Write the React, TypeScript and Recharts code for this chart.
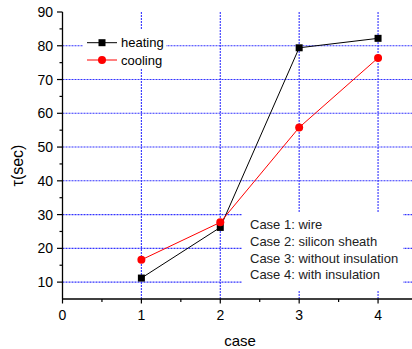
import React from 'react';
import { LineChart, Line, XAxis, YAxis, CartesianGrid } from 'recharts';

const cases = [1, 2, 3, 4];
const heating = [11.2, 26.2, 79.4, 82.2];
const cooling = [16.6, 27.7, 55.8, 76.4];
const xTicks = [0, 0.5, 1, 1.5, 2, 2.5, 3, 3.5, 4, 4.5];
const yTicks = [10, 15, 20, 25, 30, 35, 40, 45, 50, 55, 60, 65, 70, 75, 80, 85, 90];
const gridY = [10, 20, 30, 40, 50, 60, 70, 80];
const gridX = [1, 2, 3, 4];
const seriesNames = ['heating', 'cooling'];
const seriesColors = ['#000000', '#ff0000'];
const caseNotes = ['Case 1: wire', 'Case 2: silicon sheath', 'Case 3: without insulation', 'Case 4: with insulation'];

const data = cases.map((c, i) => ({ case: c, heating: heating[i], cooling: cooling[i] }));

const FONT = '"Liberation Sans", Arial, Helvetica, sans-serif';

const BottomTick = (props: any) => {
  const { x, y, payload } = props;
  const v = payload.value;
  const major = Number.isInteger(v);
  return (
    <g>
      <line x1={x} x2={x} y1={y} y2={y + (major ? 4.5 : 3)} stroke="#000" strokeWidth={1.2} />
      {major && (
        <text x={x} y={y + 21} textAnchor="middle" fontSize={14} fill="#000" fontFamily={FONT}>
          {v}
        </text>
      )}
    </g>
  );
};

const TopTick = (props: any) => {
  const { x, y, payload } = props;
  const v = payload.value;
  const major = Number.isInteger(v);
  return <line x1={x} x2={x} y1={y} y2={y + (major ? 4 : 2.5)} stroke="#000" strokeWidth={1.2} />;
};

const LeftTick = (props: any) => {
  const { x, y, payload } = props;
  const v = payload.value;
  const major = v % 10 === 0;
  return (
    <g>
      <line x1={x} x2={x - (major ? 5.5 : 3)} y1={y} y2={y} stroke="#000" strokeWidth={1.2} />
      {major && (
        <text x={x - 9.5} y={y + 5} textAnchor="end" fontSize={14} fill="#000" fontFamily={FONT}>
          {v}
        </text>
      )}
    </g>
  );
};

const YLabel = (props: any) => {
  const vb = props.viewBox || { x: 0, y: 12, width: 62.5, height: 287 };
  const cx = vb.x + 17;
  const cy = vb.y + vb.height / 2 + 10;
  return (
    <text
      x={cx}
      y={cy}
      transform={`rotate(-90 ${cx} ${cy})`}
      textAnchor="middle"
      dominantBaseline="central"
      fontSize={16}
      fill="#000"
      fontFamily={FONT}
    >
      τ(sec)
    </text>
  );
};

const XLabel = (props: any) => {
  const vb = props.viewBox || { x: 62.5, y: 299, width: 355, height: 50 };
  const cx = vb.x + vb.width / 2;
  return (
    <text x={cx} y={vb.y + 47} textAnchor="middle" fontSize={15} fill="#000" fontFamily={FONT}>
      case
    </text>
  );
};

const SquareDot = (props: any) => {
  const { cx, cy } = props;
  if (cx == null || cy == null) return null;
  return <rect key={`sq-${cx}`} x={cx - 3.5} y={cy - 3.5} width={7} height={7} fill="#000" />;
};

const CircleDot = (props: any) => {
  const { cx, cy } = props;
  if (cx == null || cy == null) return null;
  return <circle key={`ci-${cx}`} cx={cx} cy={cy} r={4} fill="#ff0000" />;
};

function LegendBox() {
  return (
    <svg
      width={83}
      height={39}
      style={{ position: 'absolute', left: 83, top: 30, display: 'block', background: '#fff' }}
    >
      {seriesNames.map((name, i) => {
        const cy = 12.7 + i * 17.3;
        const color = seriesColors[i];
        return (
          <g key={name}>
            <line x1={4} x2={34} y1={cy} y2={cy} stroke={color} strokeWidth={1} />
            {i === 0 ? (
              <rect x={19 - 3.5} y={cy - 3.5} width={7} height={7} fill={color} />
            ) : (
              <circle cx={19} cy={cy} r={4} fill={color} />
            )}
            <text x={38} y={cy + 4.5} fontSize={13} fill="#000" fontFamily={FONT}>
              {name}
            </text>
          </g>
        );
      })}
    </svg>
  );
}

export default function App() {
  return (
    <div
      style={{
        position: 'absolute',
        left: 0,
        top: 0,
        width: 412,
        height: 349,
        overflow: 'hidden',
        background: '#fff',
        fontFamily: FONT,
      }}
    >
      <LineChart
        width={440}
        height={349}
        data={data}
        margin={{ top: 12, right: 22.5, bottom: 0, left: 0 }}
      >
        <CartesianGrid
          horizontal
          vertical
          horizontalValues={gridY}
          verticalValues={gridX}
          stroke="#3333ff"
          strokeDasharray="2 1"
          strokeWidth={1.1}
        />
        <XAxis
          dataKey="case"
          type="number"
          domain={[0, 4.5]}
          ticks={xTicks}
          interval={0}
          tickSize={0}
          tickMargin={0}
          tick={<BottomTick />}
          axisLine={{ stroke: '#000', strokeWidth: 1.3 }}
          tickLine={false}
          height={50}
          label={<XLabel />}
        />
        <XAxis
          xAxisId="top"
          orientation="top"
          dataKey="case"
          type="number"
          domain={[0, 4.5]}
          ticks={xTicks}
          interval={0}
          tickSize={0}
          tickMargin={0}
          tick={<TopTick />}
          axisLine={{ stroke: '#000', strokeWidth: 1.3 }}
          tickLine={false}
          height={0}
        />
        <YAxis
          type="number"
          domain={[5, 90]}
          ticks={yTicks}
          interval={0}
          tickSize={0}
          tickMargin={0}
          tick={<LeftTick />}
          axisLine={{ stroke: '#000', strokeWidth: 1.3 }}
          tickLine={false}
          width={62.5}
          label={<YLabel />}
        />
        <Line
          type="linear"
          dataKey="heating"
          name={seriesNames[0]}
          stroke={seriesColors[0]}
          strokeWidth={1}
          dot={<SquareDot />}
          activeDot={false}
          isAnimationActive={false}
        />
        <Line
          type="linear"
          dataKey="cooling"
          name={seriesNames[1]}
          stroke={seriesColors[1]}
          strokeWidth={1}
          dot={<CircleDot />}
          activeDot={false}
          isAnimationActive={false}
        />
      </LineChart>
      <LegendBox />
      <div
        style={{
          position: 'absolute',
          left: 242,
          top: 212,
          width: 161,
          height: 79,
          background: '#fff',
          boxSizing: 'border-box',
          paddingLeft: 8,
          paddingTop: 5.3,
          fontSize: 13,
          lineHeight: '16.7px',
          color: '#222',
          fontFamily: FONT,
          whiteSpace: 'nowrap',
        }}
      >
        {caseNotes.map((n) => (
          <div key={n}>{n}</div>
        ))}
      </div>
    </div>
  );
}
